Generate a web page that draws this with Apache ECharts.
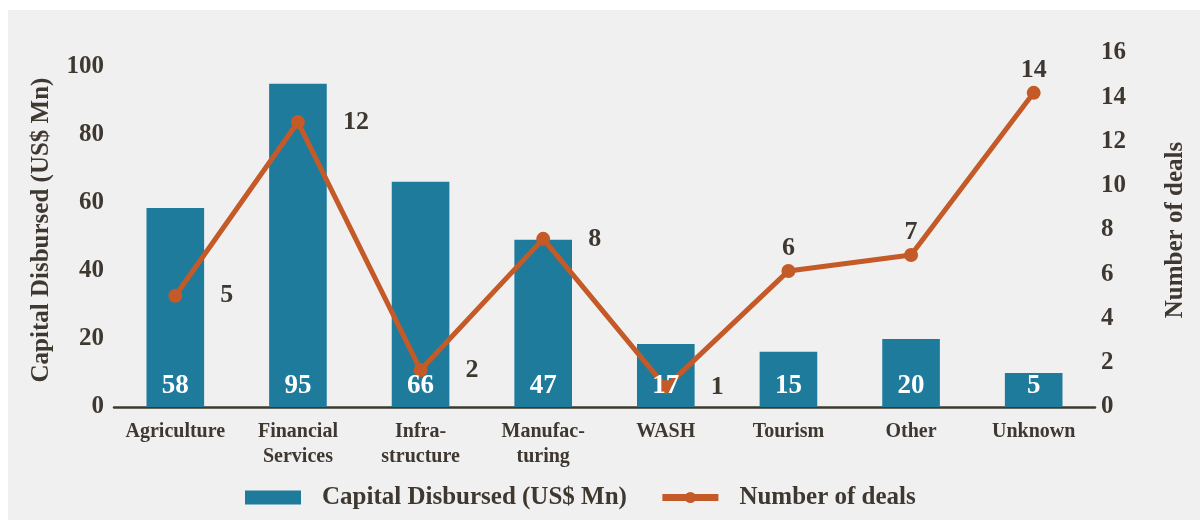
<!DOCTYPE html>
<html lang="en">
<head>
    <meta charset="UTF-8"/>
    <title>Capital disbursed by sector</title>
    <script src="https://cdn.jsdelivr.net/npm/echarts@6/dist/echarts.min.js"></script>
    <style>
        html, body { margin: 0; padding: 0; background: #ffffff; }
        #main { position: absolute; left: 8px; top: 10px; width: 1192px; height: 510px; }
    </style>
</head>
<body>
<div id="main"></div>
<script type="text/javascript">
    // data
    var sectors = ['Agriculture', 'Financial\nServices', 'Infra-\nstructure', 'Manufac-\nturing', 'WASH', 'Tourism', 'Other', 'Unknown'];
    var capitalBars = [58.5, 95, 66.2, 49.1, 18.5, 16.2, 20, 10];
    var capitalLabels = [58, 95, 66, 47, 17, 15, 20, 5];
    var dealPoints = [5.03, 12.88, 1.67, 7.6, 0.9, 6.15, 6.87, 14.2];
    var dealLabels = [5, 12, 2, 8, 1, 6, 7, 14];
    var leftTicks = [0, 20, 40, 60, 80, 100];
    var rightTicks = [0, 2, 4, 6, 8, 10, 12, 14, 16];

    var textColor = '#3e3831';
    var barColor = '#1e7b9b';
    var lineColor = '#c35a27';
    var font = 'Liberation Serif';

    var myChart = echarts.init(document.getElementById('main'));

    // bar value labels go in their own transparent series so they sit above the line
    var barLabelData = capitalBars.map(function (v, i) {
        return { value: v, label: { formatter: String(capitalLabels[i]) } };
    });
    var lineData = dealPoints.map(function (v, i) {
        var above = i >= 5;
        return {
            value: v,
            label: {
                formatter: String(dealLabels[i]),
                position: above ? 'top' : 'right',
                distance: above ? 3 : 38
            }
        };
    });

    option = {
        backgroundColor: '#f0f0f0',
        textStyle: { fontFamily: font },
        grid: { left: 106, right: 105, top: 43, bottom: 113 },
        legend: {
            bottom: 5,
            left: 232,
            itemGap: 32,
            itemWidth: 56,
            itemHeight: 14,
            textStyle: {
                fontFamily: font, fontSize: 25, fontWeight: 'bold', color: textColor,
                padding: [0, 0, 0, 16]
            },
            data: [
                { name: 'Capital Disbursed (US$ Mn)', icon: 'rect' },
                { name: 'Number of deals', lineStyle: { width: 7 } }
            ]
        },
        xAxis: {
            type: 'category',
            data: sectors,
            axisLine: { lineStyle: { color: '#3e3831', width: 2.5 } },
            axisTick: { show: false },
            axisLabel: {
                color: textColor, fontFamily: font, fontSize: 20, fontWeight: 'bold',
                lineHeight: 25, margin: 12, interval: 0
            }
        },
        yAxis: [
            {
                type: 'value',
                min: 0, max: 104, interval: 20,
                name: 'Capital Disbursed (US$ Mn)',
                nameLocation: 'middle',
                nameGap: 60,
                nameTextStyle: { color: textColor, fontFamily: font, fontSize: 25, fontWeight: 'bold' },
                splitLine: { show: false },
                axisLine: { show: false },
                axisTick: { show: false },
                axisLabel: {
                    color: textColor, fontFamily: font, fontSize: 25, fontWeight: 'bold', margin: 10,
                    showMaxLabel: false,
                    formatter: function (v) { return leftTicks.indexOf(v) >= 0 ? v : ''; }
                }
            },
            {
                type: 'value',
                min: 0, max: 16, interval: 2,
                name: 'Number of deals',
                nameLocation: 'middle',
                nameGap: 68,
                nameTextStyle: { color: textColor, fontFamily: font, fontSize: 25, fontWeight: 'bold' },
                splitLine: { show: false },
                axisLine: { show: false },
                axisTick: { show: false },
                axisLabel: {
                    color: textColor, fontFamily: font, fontSize: 25, fontWeight: 'bold', margin: 6,
                    formatter: function (v) { return rightTicks.indexOf(v) >= 0 ? v : ''; }
                }
            }
        ],
        series: [
            {
                name: 'Capital Disbursed (US$ Mn)',
                type: 'bar',
                yAxisIndex: 0,
                barWidth: '47%',
                itemStyle: { color: barColor },
                data: capitalBars,
                z: 2
            },
            {
                name: 'Number of deals',
                type: 'line',
                yAxisIndex: 1,
                data: lineData,
                symbol: 'circle',
                symbolSize: 14,
                lineStyle: { color: lineColor, width: 5 },
                itemStyle: { color: lineColor },
                label: {
                    show: true,
                    color: textColor,
                    fontFamily: font,
                    fontSize: 26,
                    fontWeight: 'bold'
                },
                z: 3
            },
            {
                name: 'bar labels',
                type: 'bar',
                yAxisIndex: 0,
                barWidth: '47%',
                barGap: '-100%',
                silent: true,
                itemStyle: { color: 'rgba(0,0,0,0)' },
                data: barLabelData,
                label: {
                    show: true,
                    position: 'insideBottom',
                    distance: 7,
                    color: '#ffffff',
                    fontFamily: font,
                    fontSize: 27,
                    fontWeight: 'bold'
                },
                z: 4
            }
        ]
    };

    myChart.setOption(option);
</script>
</body>
</html>
